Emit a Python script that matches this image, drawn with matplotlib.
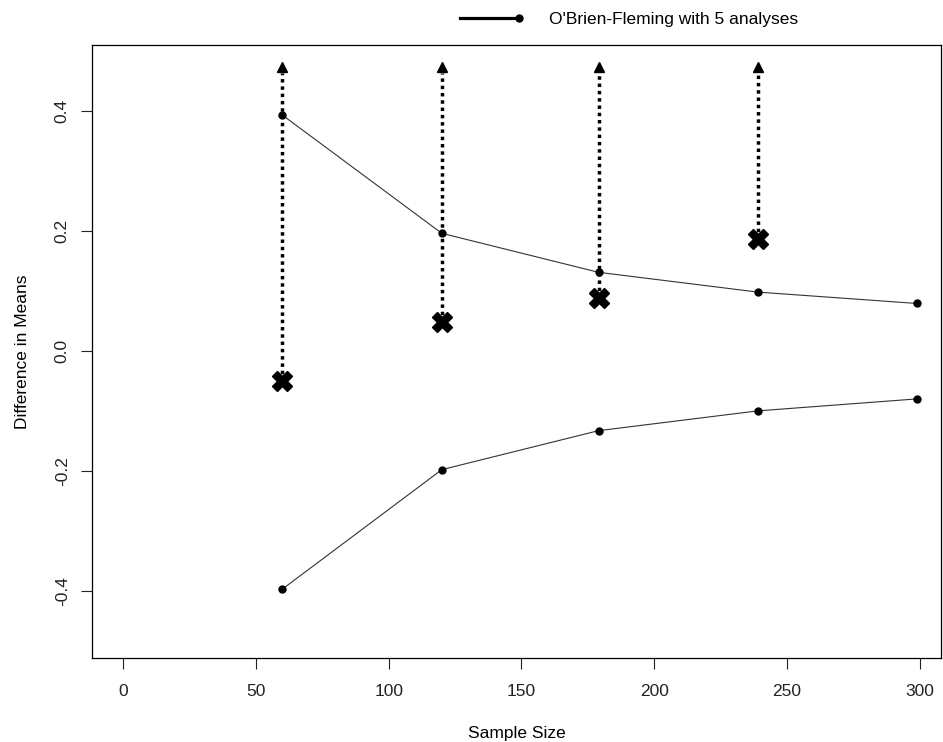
import numpy as np
import matplotlib.pyplot as plt
from matplotlib.lines import Line2D
from matplotlib.legend_handler import HandlerLine2D

plt.rcParams['font.family'] = ['Liberation Sans', 'DejaVu Sans']

# interim analyses
sample_size = [60, 120, 179, 239, 299]
upper_bound = [0.393, 0.196, 0.131, 0.098, 0.079]
lower_bound = [-0.397, -0.198, -0.133, -0.100, -0.080]

# observed differences at the first four looks
obs_n = [60, 120, 179, 239]
obs_diff = [-0.050, 0.048, 0.088, 0.187]
arrow_top = 0.474

x_ticks = [0, 50, 100, 150, 200, 250, 300]
y_ticks = [-0.4, -0.2, 0.0, 0.2, 0.4]
y_ticklabels = ['-0.4', '-0.2', '0.0', '0.2', '0.4']


class EndDotHandler(HandlerLine2D):
    # legend key: a line with the dot at its right end
    def create_artists(self, legend, orig_handle, xdescent, ydescent,
                       width, height, fontsize, trans):
        y = height / 2 - ydescent
        line = Line2D([-xdescent, width - xdescent], [y, y],
                      color='black', lw=2.3, transform=trans)
        dot = Line2D([width - xdescent], [y], marker='o', ms=5,
                     color='black', transform=trans)
        return [line, dot]


fig = plt.figure(figsize=(9.43, 7.42), dpi=100)
ax = fig.add_axes([0.0976, 0.1132, 0.9004, 0.8262])

ax.plot(sample_size, upper_bound, color='#333333', lw=0.8,
        marker='o', ms=5, mfc='black', mec='black')
ax.plot(sample_size, lower_bound, color='#333333', lw=0.8,
        marker='o', ms=5, mfc='black', mec='black')

for n, d in zip(obs_n, obs_diff):
    ax.plot([n, n], [d, arrow_top - 0.01], color='black', lw=2.5,
            ls=(0, (1, 1.1)), dash_capstyle='butt')
    ax.plot(n, arrow_top, marker='^', ms=7.5, color='black')
    ax.plot(n, d, marker='X', ms=15, color='black', mec='black')

ax.set_xlim(-11.7, 308)
ax.set_ylim(-0.512, 0.51)
ax.set_xticks(x_ticks)
ax.set_yticks(y_ticks)
ax.set_yticklabels(y_ticklabels, rotation=90, va='center')
ax.tick_params(direction='out', length=8, width=0.8, labelsize=12.5,
               colors='#222222')
ax.tick_params(axis='x', pad=11)
ax.tick_params(axis='y', pad=8)
ax.set_xlabel('Sample Size', fontsize=12.5, labelpad=19)
ax.set_ylabel('Difference in Means', fontsize=12.5, labelpad=18)
for s in ax.spines.values():
    s.set_linewidth(0.9)

proxy = Line2D([], [], color='black')
fig.legend([proxy], ["O'Brien-Fleming with 5 analyses"],
           handler_map={Line2D: EndDotHandler()},
           loc='center', bbox_to_anchor=(0.667, 0.974), frameon=False,
           fontsize=12.5, handlelength=3.4, handletextpad=1.7)

fig.savefig('out.png', dpi=100)
